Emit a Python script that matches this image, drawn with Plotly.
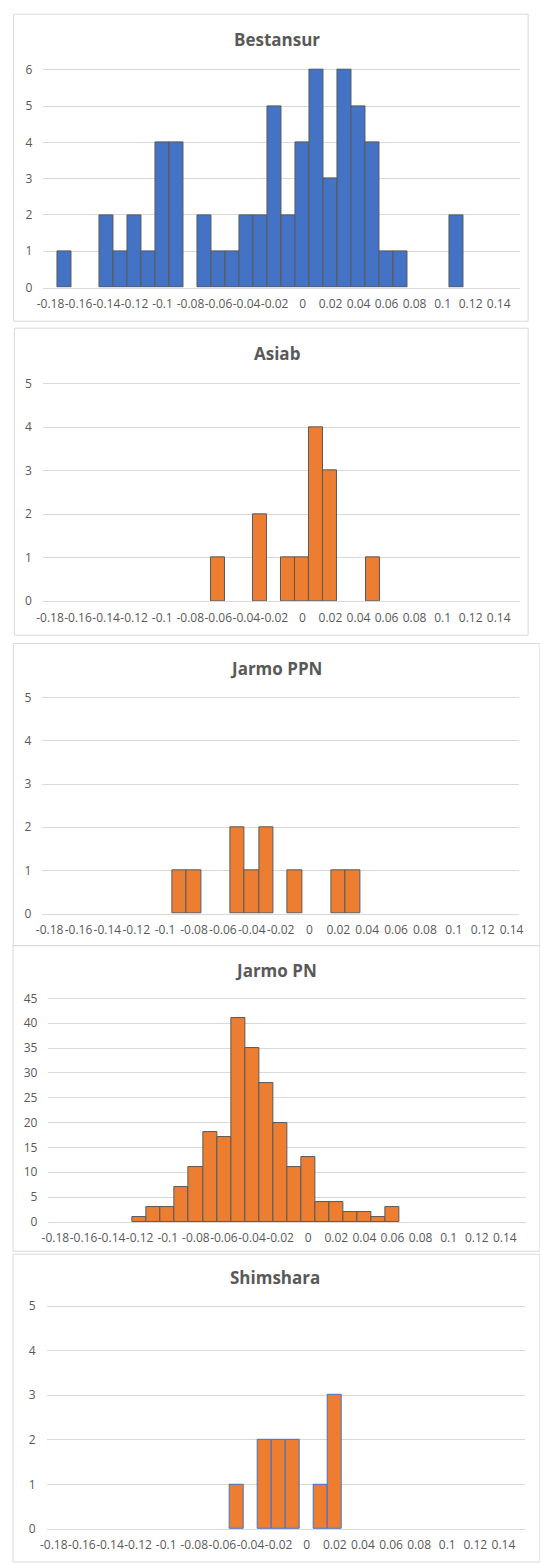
import plotly.graph_objects as go

W, H = 540, 1564

# Histogram bin centres (bin width 0.01)
BINS = [-0.18, -0.17, -0.16, -0.15, -0.14, -0.13, -0.12, -0.11, -0.10, -0.09,
        -0.08, -0.07, -0.06, -0.05, -0.04, -0.03, -0.02, -0.01, 0.00, 0.01,
        0.02, 0.03, 0.04, 0.05, 0.06, 0.07, 0.08, 0.09, 0.10, 0.11,
        0.12, 0.13, 0.14, 0.15]

TICK_VALS = [-0.18, -0.16, -0.14, -0.12, -0.10, -0.08, -0.06, -0.04, -0.02,
             0.00, 0.02, 0.04, 0.06, 0.08, 0.10, 0.12, 0.14]
TICK_TEXT = ["-0.18", "-0.16", "-0.14", "-0.12", "-0.1", "-0.08", "-0.06",
             "-0.04", "-0.02", "0", "0.02", "0.04", "0.06", "0.08", "0.1",
             "0.12", "0.14"]

SITES = ["Bestansur", "Asiab", "Jarmo PPN", "Jarmo PN", "Shimshara"]

bestansur = [0, 1, 0, 0, 2, 1, 2, 1, 4, 4, 0, 2, 1, 1, 2, 2, 5, 2, 4, 6,
             3, 6, 5, 4, 1, 1, 0, 0, 0, 2, 0, 0, 0, 0]
asiab = [0, 0, 0, 0, 0, 0, 0, 0, 0, 0, 0, 0, 1, 0, 0, 2, 0, 1, 1, 4,
         3, 0, 0, 1, 0, 0, 0, 0, 0, 0, 0, 0, 0, 0]
jarmo_ppn = [0, 0, 0, 0, 0, 0, 0, 0, 0, 1, 1, 0, 0, 2, 1, 2, 0, 1, 0, 0,
             1, 1, 0, 0, 0, 0, 0, 0, 0, 0, 0, 0, 0]
jarmo_pn = [0, 0, 0, 0, 0, 0, 1, 3, 3, 7, 11, 18, 17, 41, 35, 28, 20, 11, 13, 4,
            4, 2, 2, 1, 3, 0, 0, 0, 0, 0, 0, 0, 0, 0]
shimshara = [0, 0, 0, 0, 0, 0, 0, 0, 0, 0, 0, 0, 0, 1, 0, 2, 2, 2, 0, 1,
             3, 0, 0, 0, 0, 0, 0, 0, 0, 0, 0, 0, 0, 0]

COUNTS = [bestansur, asiab, jarmo_ppn, jarmo_pn, shimshara]
Y_MAX = [6, 5, 5, 45, 5]
Y_STEP = [1, 1, 1, 5, 1]

BLUE = "#4472C4"
ORANGE = "#ED7D31"
EDGE = "#595959"
GRID = "#D9D9D9"
TEXT = "#595959"
FILL = [BLUE, ORANGE, ORANGE, ORANGE, ORANGE]
OUTLINE = [EDGE, EDGE, EDGE, EDGE, BLUE]

# Panel geometry in pixels: plot left/right, y of zero line, y of top gridline,
# title centre, chart-area frame (x0, y0, x1, y1)
PANELS = [
    dict(xl=37.3, xr=524.3, y0=283.3, yt=63.3, tx=276.0, ty=33.3,
         frame=(6.7, 7.3, 533.0, 317.3)),
    dict(xl=36.8, xr=524.4, y0=600.0, yt=380.3, tx=276.3, ty=350.0,
         frame=(7.6, 324.3, 533.0, 634.3)),
    dict(xl=36.2, xr=523.4, y0=915.5, yt=697.3, tx=274.7, ty=668.3,
         frame=(6.5, 642.7, 545.0, 947.7)),
    dict(xl=42.3, xr=530.7, y0=1226.7, yt=1001.0, tx=274.7, ty=973.3,
         frame=(6.2, 947.7, 545.0, 1256.3)),
    dict(xl=40.6, xr=529.3, y0=1536.7, yt=1311.7, tx=273.8, ty=1283.3,
         frame=(6.2, 1259.3, 545.0, 1570.0)),
]

FONT = "Open Sans"
fig = go.Figure()
layout = dict(
    width=W, height=H,
    margin=dict(l=0, r=0, t=0, b=0),
    paper_bgcolor="white", plot_bgcolor="white",
    showlegend=False, bargap=0,
    shapes=[], annotations=[],
)

for i, (name, counts) in enumerate(zip(SITES, COUNTS)):
    p = PANELS[i]
    n = len(counts)
    xs = BINS[:n]
    ys = [c if c > 0 else None for c in counts]
    k = "" if i == 0 else str(i + 1)

    fig.add_trace(go.Bar(
        x=xs, y=ys, width=0.01, name=name,
        marker=dict(color=FILL[i], line=dict(color=OUTLINE[i], width=1)),
        xaxis="x" + k, yaxis="y" + k,
    ))

    x_lo = BINS[0] - 0.005
    x_hi = BINS[n - 1] + 0.005

    ppu = (p["y0"] - p["yt"]) / Y_MAX[i]
    y_hi = Y_MAX[i] * 1.006
    top_px = p["y0"] - y_hi * ppu

    layout["xaxis" + k] = dict(
        domain=[p["xl"] / W, p["xr"] / W], range=[x_lo, x_hi],
        anchor="y" + k, tickmode="array", tickvals=TICK_VALS,
        ticktext=TICK_TEXT, showgrid=False, zeroline=False,
        showline=True, linecolor=GRID, linewidth=1, ticks="",
        ticklabelstandoff=5, tickangle=0,
        tickfont=dict(family=FONT, size=12, color=TEXT), fixedrange=True,
    )
    layout["yaxis" + k] = dict(
        domain=[1 - p["y0"] / H, 1 - top_px / H], range=[0, y_hi],
        anchor="x" + k, tickmode="linear", tick0=0, dtick=Y_STEP[i],
        showgrid=True, gridcolor=GRID, gridwidth=1, zeroline=False,
        showline=False, ticks="", ticklabelstandoff=10,
        tickfont=dict(family=FONT, size=12, color=TEXT), fixedrange=True,
    )

    fx0, fy0, fx1, fy1 = p["frame"]
    layout["shapes"].append(dict(
        type="rect", xref="paper", yref="paper",
        x0=fx0 / W, x1=fx1 / W, y0=1 - fy1 / H, y1=1 - fy0 / H,
        line=dict(color=GRID, width=1), fillcolor="rgba(0,0,0,0)", layer="below",
    ))
    layout["annotations"].append(dict(
        text=name, xref="paper", yref="paper",
        x=p["tx"] / W, y=1 - p["ty"] / H, xanchor="center", yanchor="middle",
        showarrow=False,
        font=dict(family=FONT, size=17, color=TEXT, weight=700),
    ))

fig.update_layout(**layout)
fig.write_html("out.html")
